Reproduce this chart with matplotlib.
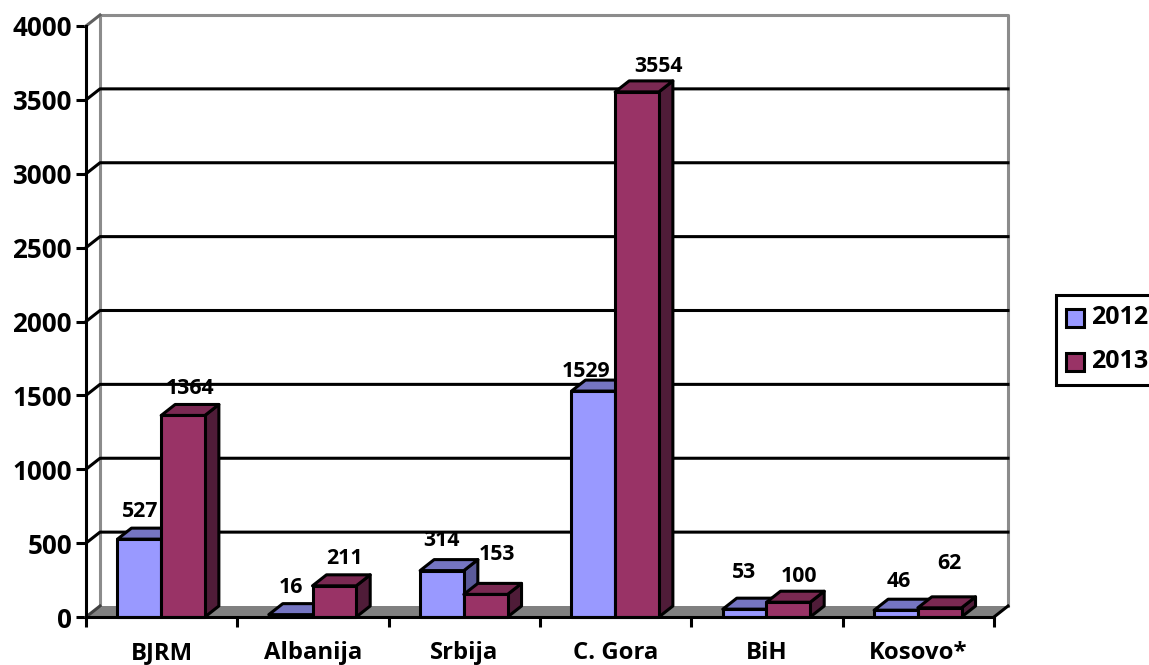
# -*- coding: utf-8 -*-
import matplotlib
matplotlib.use('Agg')
import matplotlib.pyplot as plt
from matplotlib.patches import Polygon, Rectangle

categories = ['BJRM', 'Albanija', 'Srbija', 'C. Gora', 'BiH', 'Kosovo*']
values_2012 = [527, 16, 314, 1529, 53, 46]
values_2013 = [1364, 211, 153, 3554, 100, 62]
yticks = [0, 500, 1000, 1500, 2000, 2500, 3000, 3500, 4000]

# label shift from the bar's top centre, in pixels (the original has them placed by hand)
shift_2012 = [(1, 28), (0, 27), (0, 30), (-7, 20), (-1, 37), (3, 29)]
shift_2013 = [(7, 27), (10, 27), (11, 40), (21, 25), (11, 26), (10, 44)]

W, H = 1149, 665
plt.rcParams['font.family'] = ['Open Sans', 'DejaVu Sans']
plt.rcParams['font.weight'] = 'bold'

fig = plt.figure(figsize=(W / 100, H / 100), dpi=100)
ax = fig.add_axes([86 / W, (H - 617) / H, 908 / W, 591 / H])
ax.set_xlim(0, 6)
ax.set_ylim(0, 4000)

# depth of the fake 3d, in data units
px_x = 6 / 908
px_y = 4000 / 591
dx = 14 * px_x
dy = 11 * px_y
bw = 43.7 * px_x

LW = 2.2
BLUE = ('#9999FF', '#7575C2', '#5A5A99')
MAROON = ('#993366', '#7A2952', '#4F1C38')

# floor and walls
ax.add_patch(Polygon([(0, 0), (6, 0), (6 + dx, dy), (dx, dy)], closed=True,
                     fc='#808080', ec='none', zorder=1, clip_on=False))
ax.plot([dx, dx, 6 + dx, 6 + dx], [dy, 4000 + dy, 4000 + dy, dy], color='#8C8C8C',
        lw=LW, zorder=2, clip_on=False)
ax.plot([0, dx], [4000, 4000 + dy], color='#606060', lw=LW, zorder=2, clip_on=False)
ax.plot([6, 6 + dx], [0, dy], color='black', lw=LW, zorder=2, clip_on=False)
ax.plot([0, dx], [0, dy], color='#404040', lw=LW, zorder=2, clip_on=False)

for t in yticks[1:-1]:
    ax.plot([0, dx, 6 + dx], [t, t + dy, t + dy], color='black', lw=LW, zorder=3, clip_on=False)


def bar3d(x0, v, cols):
    x1 = x0 + bw
    kw = dict(closed=True, ec='black', lw=LW, joinstyle='round', clip_on=False, zorder=5)
    ax.add_patch(Polygon([(x1, 0), (x1 + dx, dy), (x1 + dx, v + dy), (x1, v)], fc=cols[2], **kw))
    ax.add_patch(Polygon([(x0, v), (x1, v), (x1 + dx, v + dy), (x0 + dx, v + dy)], fc=cols[1], **kw))
    ax.add_patch(Polygon([(x0, 0), (x1, 0), (x1, v), (x0, v)], fc=cols[0], **kw))


def label(x, v, shift):
    ax.annotate(str(v), (x, v), xytext=(shift[0] * 0.72, shift[1] * 0.72),
                textcoords='offset points', ha='center', va='center',
                fontsize=15.3, fontweight='bold', zorder=8, annotation_clip=False)


for i in range(len(categories)):
    c = i + 0.5 - 0.5 * px_x
    bar3d(c - bw, values_2012[i], BLUE)
    bar3d(c, values_2013[i], MAROON)
    label(c - bw / 2, values_2012[i], shift_2012[i])
    label(c + bw / 2, values_2013[i], shift_2013[i])

# axes
for s in ['top', 'right']:
    ax.spines[s].set_visible(False)
for s in ['left', 'bottom']:
    ax.spines[s].set_linewidth(LW)
    ax.spines[s].set_zorder(6)
ax.patch.set_visible(False)
ax.set_yticks(yticks)
ax.set_xticks(range(7))
ax.set_xticklabels([])
ax.set_xticks([i + 0.5 for i in range(6)], labels=categories, minor=True)
ax.tick_params(axis='y', length=7.2, width=LW, labelsize=18.7, pad=3)
ax.tick_params(axis='x', which='major', length=7.2, width=LW)
ax.tick_params(axis='x', which='minor', length=0, labelsize=17.2, pad=17)
for t in ax.get_yticklabels() + ax.get_xticklabels(minor=True):
    t.set_fontweight('bold')

# legend, hand built because it runs off the right edge
fig.add_artist(Rectangle((1056 / W, (H - 385) / H), 120 / W, 90 / H, fc='white', ec='black',
                         lw=LW, transform=fig.transFigure, clip_on=True))
for y0, name, col in [(318, '2012', BLUE[0]), (362, '2013', MAROON[0])]:
    fig.add_artist(Rectangle((1066 / W, (H - y0 - 9) / H), 18 / W, 18 / H, fc=col, ec='black',
                             lw=LW, transform=fig.transFigure))
    fig.text(1091 / W, (H - y0) / H, name, fontsize=18, fontweight='bold', va='center', ha='left')

fig.savefig('out.png', dpi=100)
